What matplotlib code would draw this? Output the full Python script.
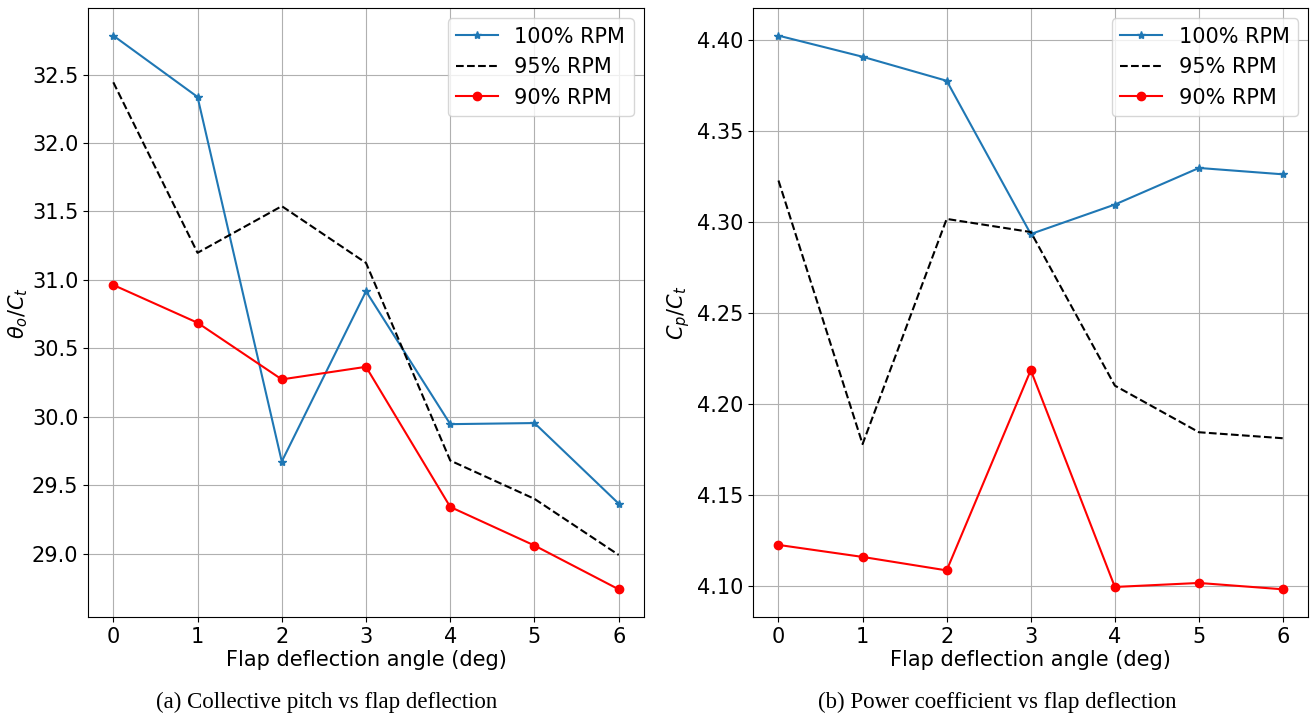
import matplotlib
matplotlib.use("Agg")
import matplotlib.pyplot as plt

flap_angle = [0, 1, 2, 3, 4, 5, 6]

# (a) Collective pitch / Ct
theta_100 = [32.785, 32.337, 29.673, 30.917, 29.946, 29.954, 29.365]
theta_95 = [32.444, 31.198, 31.539, 31.124, 29.680, 29.400, 28.990]
theta_90 = [30.963, 30.687, 30.273, 30.365, 29.341, 29.059, 28.739]

# (b) Power coefficient / Ct
cp_100 = [4.4022, 4.3906, 4.3774, 4.2932, 4.3094, 4.3295, 4.3260]
cp_95 = [4.3226, 4.1778, 4.3015, 4.2943, 4.2099, 4.1843, 4.1810]
cp_90 = [4.1224, 4.1158, 4.1084, 4.2184, 4.0993, 4.1015, 4.0980]

labels = ["100% RPM", "95% RPM", "90% RPM"]
captions = ["(a) Collective pitch vs flap deflection",
            "(b) Power coefficient vs flap deflection"]
xlabel = "Flap deflection angle (deg)"
ylabels = [r"$\theta_o/C_t$", r"$C_p/C_t$"]

fs = 15
fig = plt.figure(figsize=(13.1, 7.23), dpi=100)
ax1 = fig.add_axes([0.0672, 0.1466, 0.4244, 0.8424])
ax2 = fig.add_axes([0.5750, 0.1466, 0.4237, 0.8424])

for ax, s100, s95, s90, yl in [(ax1, theta_100, theta_95, theta_90, ylabels[0]),
                               (ax2, cp_100, cp_95, cp_90, ylabels[1])]:
    ax.plot(flap_angle, s100, color="tab:blue", marker="*", markersize=6, label=labels[0])
    ax.plot(flap_angle, s95, "k--", label=labels[1])
    ax.plot(flap_angle, s90, color="red", marker="o", markersize=6, label=labels[2])
    ax.grid(True)
    ax.set_xlabel(xlabel, fontsize=fs, labelpad=2)
    ax.set_ylabel(yl, fontsize=fs)
    ax.tick_params(labelsize=fs)
    ax.legend(loc="upper right", fontsize=fs)

ax2.yaxis.set_major_formatter(matplotlib.ticker.FormatStrFormatter("%.2f"))
ax1.yaxis.set_label_coords(-0.104, 0.5)
ax2.yaxis.set_label_coords(-0.110, 0.5)

fig.text(0.2492, 0.0207, captions[0], ha="center", va="baseline",
         family="Liberation Serif", fontsize=16.5)
fig.text(0.761, 0.0207, captions[1], ha="center", va="baseline",
         family="Liberation Serif", fontsize=16.5)

fig.savefig("out.png", dpi=100)
